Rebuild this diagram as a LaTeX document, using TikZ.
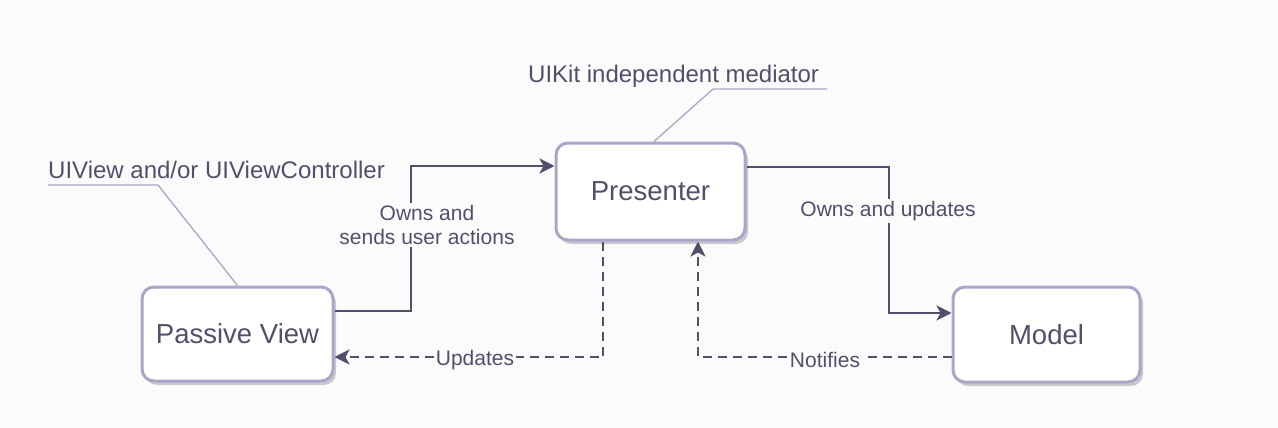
\documentclass[tikz,border=0pt]{standalone}
\usepackage{fontspec}
\setmainfont{Liberation Sans}
\usetikzlibrary{arrows.meta,shadows,calc}
\definecolor{bgc}{HTML}{FBFBFC}
\definecolor{ink}{HTML}{524F6B}
\definecolor{rim}{HTML}{A9A6C8}
\definecolor{shade}{HTML}{C9C8CF}
\tikzset{
  block/.style={draw=rim, line width=3pt, fill=white, rounded corners=12pt,
    minimum width=#1, text=ink, font=\fontsize{27.5}{32}\selectfont,
    drop shadow={shadow xshift=3pt, shadow yshift=-4pt, fill=shade, opacity=1}},
  conn/.style={draw=ink, line width=2.8pt, -{Stealth[length=15pt,width=15pt,inset=4pt]}},
  dconn/.style={conn, dash pattern=on 9pt off 6pt},
  elabel/.style={fill=bgc, text=ink, inner sep=2pt, font=\fontsize{21}{24.5}\selectfont, align=center},
  note/.style={text=ink, inner sep=0pt, font=\fontsize{24}{28}\selectfont},
  noteline/.style={draw=rim, line width=1.3pt},
}
\begin{document}
\begin{tikzpicture}[x=1pt,y=-1pt]
  \path[fill=bgc] (0,0) rectangle (1278,428);
  \useasboundingbox (0,0) rectangle (1278,428);

  % the three components
  \node[block=191pt, minimum height=94pt] (pv) at (237.5,334) {Passive View};
  \node[block=189pt, minimum height=97pt] (pr) at (650.5,191.5) {Presenter};
  \node[block=187pt, minimum height=95pt] (md) at (1046.5,334.5) {Model};

  % annotations
  \node[note, anchor=base west] (n1) at (48,178) {UIView and/or UIViewController};
  \coordinate (n1a) at (48,185);
  \coordinate (n1b) at (158,185);
  \draw[noteline] (n1a) -- (n1b) -- (pv.north);

  \node[note, anchor=base west] (n2) at (528,83) {UIKit independent mediator};
  \coordinate (n2a) at (827,89);
  \coordinate (n2b) at (713,89);
  \draw[noteline] (n2a) -- (n2b) -- ([xshift=3.5pt]pr.north);

  % ownership links
  \draw[conn] ([yshift=23pt]pv.east) -| (411,166) -- ([yshift=25.5pt]pr.west);
  \node[elabel] (l1) at (427,225) {Owns and\\sends user actions};

  \draw[conn] ([yshift=24.5pt]pr.east) -| (889,313) -- ([yshift=21.5pt]md.west);
  \node[elabel] (l2) at (888,211) {Owns and updates};

  % update / notification links
  \draw[dconn] ([xshift=-47.5pt]pr.south) |- ([yshift=-23pt]pv.east);
  \node[elabel] (l3) at (475,360) {Updates};

  \draw[dconn] ([yshift=-22.5pt]md.west) -| ([xshift=47.5pt]pr.south);
  \node[elabel] (l4) at (825,360) {Notifies};
\end{tikzpicture}
\end{document}
